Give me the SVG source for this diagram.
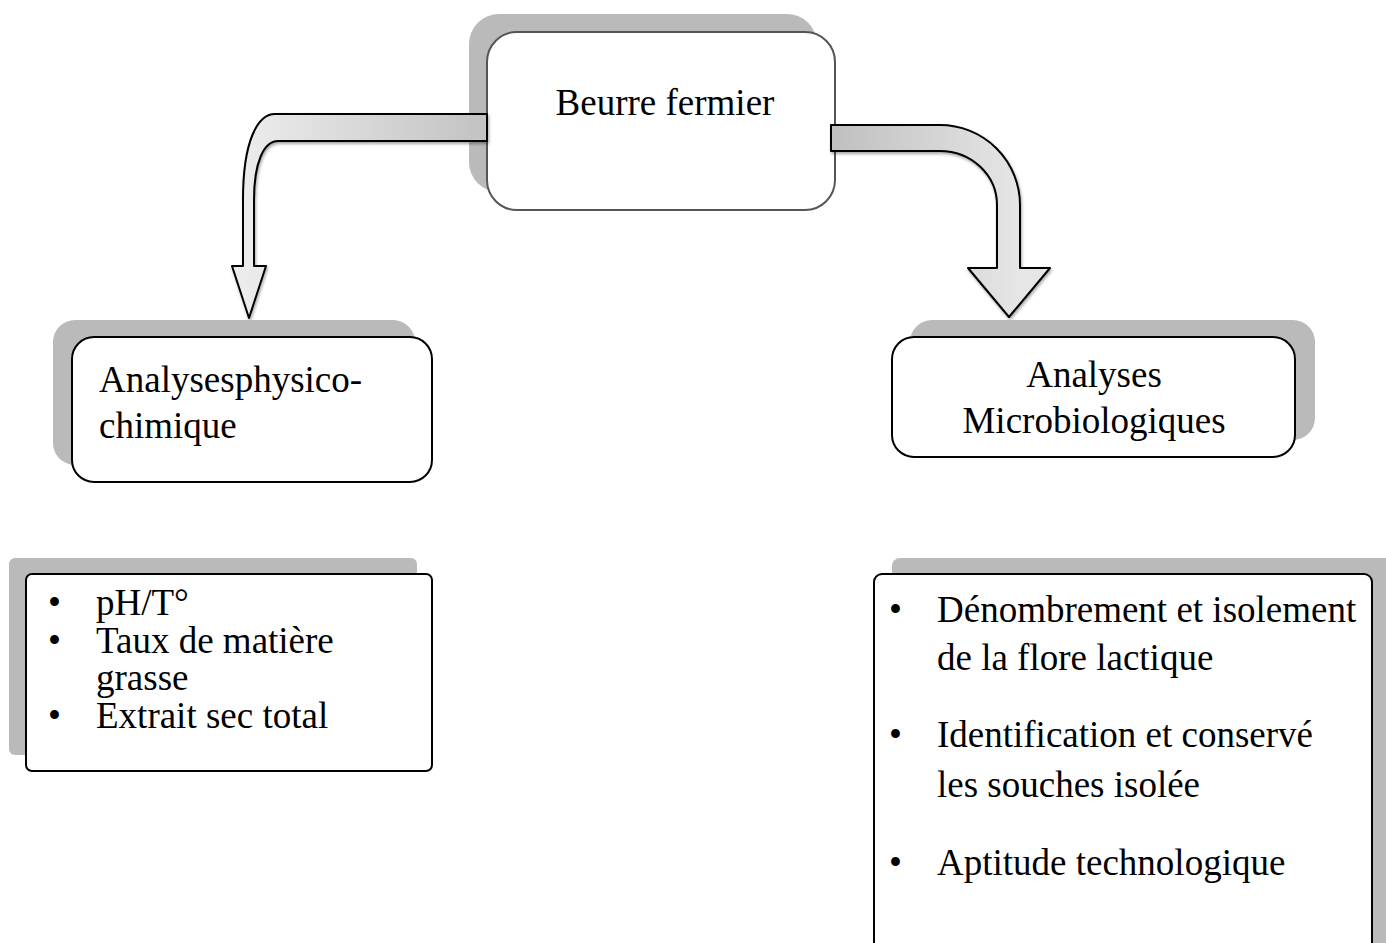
<svg xmlns="http://www.w3.org/2000/svg" width="1386" height="943" viewBox="0 0 1386 943">
<style>
text{font-family:"Liberation Serif","Times New Roman",serif;font-size:37px;fill:#000}
.sh{fill:#bababa}
.box{fill:#fff;stroke:#000;stroke-width:2}
.arrow{stroke:#000;stroke-width:2;stroke-linejoin:round;filter:url(#ds)}
</style>
<defs>
<linearGradient id="gl" gradientUnits="userSpaceOnUse" x1="243" y1="0" x2="487" y2="0">
<stop offset="0" stop-color="#ececec"/><stop offset="1" stop-color="#c2c2c2"/>
</linearGradient>
<linearGradient id="gr" gradientUnits="userSpaceOnUse" x1="831" y1="0" x2="1020" y2="0">
<stop offset="0" stop-color="#bfbfbf"/><stop offset="1" stop-color="#e6e6e6"/>
</linearGradient>
<filter id="ds" x="-20%" y="-20%" width="140%" height="140%">
<feDropShadow dx="1" dy="2" stdDeviation="1.5" flood-color="#000" flood-opacity="0.35"/>
</filter>
</defs>
<rect width="1386" height="943" fill="#fff"/>

<g id="node-beurre">
<rect class="sh" x="469" y="14" width="348" height="178" rx="30"/>
<rect x="487" y="32" width="348" height="178" rx="30" fill="#fff" stroke="#555" stroke-width="2"/>
<text x="665" y="115" text-anchor="middle">Beurre fermier</text>
</g>

<g id="connectors">
<path class="arrow" fill="url(#gl)" d="M487,114 L275,114 C258,114 243,140 243,200 L243,266 L232,266 L249,318 L266,266 L254,266 L254,200 C254,162 264,141 278,141 L487,141 Z"/>
<path class="arrow" fill="url(#gr)" d="M831,125 L940,125 A80,80 0 0 1 1020,205 L1020,268 L1050,268 L1009,317 L968,268 L997,268 L997,205 A57,54 0 0 0 940,151 L831,151 Z"/>
</g>

<g id="node-physico">
<rect class="sh" x="53" y="320" width="362" height="145" rx="22"/>
<rect class="box" x="72" y="337" width="360" height="145" rx="22"/>
<text x="99" y="392">Analysesphysico-</text>
<text x="99" y="438">chimique</text>
</g>

<g id="node-micro">
<rect class="sh" x="910" y="320" width="405" height="120" rx="22"/>
<rect class="box" x="892" y="337" width="403" height="120" rx="22"/>
<text x="1094" y="387" text-anchor="middle">Analyses</text>
<text x="1094" y="433" text-anchor="middle">Microbiologiques</text>
</g>

<g id="node-list-physico">
<rect class="sh" x="9" y="558" width="408" height="197" rx="6"/>
<rect class="box" x="26" y="574" width="406" height="197" rx="6"/>
<text x="48" y="615">•</text><text x="96" y="615">pH/T°</text>
<text x="48" y="653">•</text><text x="96" y="653">Taux de matière</text>
<text x="96" y="690">grasse</text>
<text x="48" y="728">•</text><text x="96" y="728">Extrait sec total</text>
</g>

<g id="node-list-micro">
<rect class="sh" x="892" y="558" width="520" height="400" rx="8"/>
<rect class="box" x="874" y="574" width="498" height="380" rx="8"/>
<text x="889" y="622">•</text><text x="937" y="622">Dénombrement et isolement</text>
<text x="937" y="670">de la flore lactique</text>
<text x="889" y="747">•</text><text x="937" y="747">Identification et conservé</text>
<text x="937" y="797">les souches isolée</text>
<text x="889" y="875">•</text><text x="937" y="875">Aptitude technologique</text>
</g>
</svg>
